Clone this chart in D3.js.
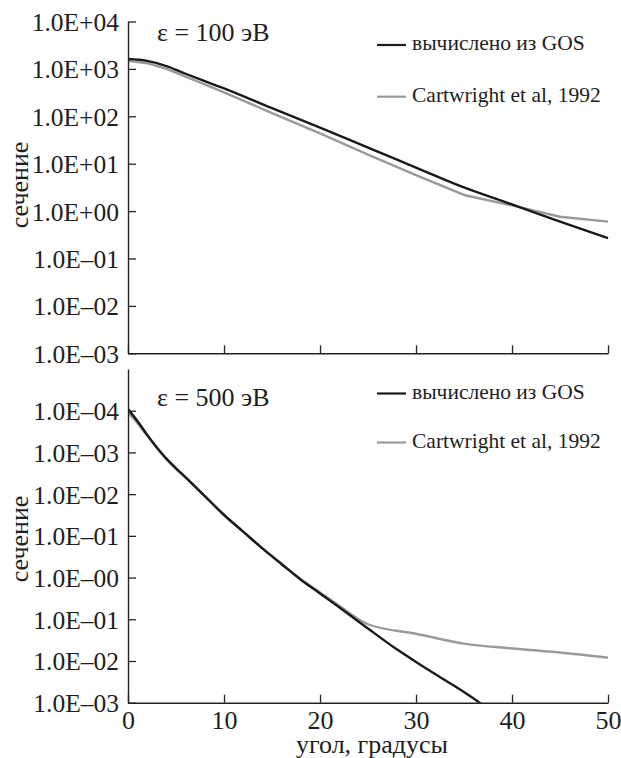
<!DOCTYPE html>
<html>
<head>
<meta charset="utf-8">
<script src="https://cdn.jsdelivr.net/npm/d3@7"></script>
</head>
<body style="margin:0; background:#fff">
<svg id="chart" width="621" height="758" style="display:block"></svg>
<script>
const SERIF = '"Liberation Serif", "Times New Roman", serif';
const INK = "#1e1e1e";

// Scattering angle, degrees
const angles100 = [0, 2, 4, 6, 8, 10, 15, 20, 25, 30, 35, 40, 45, 50];
// Cross section at 100 eV: computed from GOS and Cartwright et al (1992)
const gos100  = [1620, 1480, 1150, 790, 550, 390, 148, 57.5, 21.9, 8.3, 3.16, 1.38, 0.60, 0.27];
const cart100 = [1480, 1320, 1000, 690, 470, 320, 117, 43.6, 15.5, 5.75, 2.19, 1.32, 0.76, 0.60];

// Cross section at 500 eV
const anglesGos500 = [0, 1, 2, 3, 4, 5, 6, 8, 10, 12, 14, 16, 18, 20, 22, 25, 28, 30, 33, 35, 37];
const gos500 = [11000, 5600, 2630, 1320, 710, 417, 251, 89, 31.6, 12.6, 5.0, 2.09, 0.89, 0.417, 0.195, 0.060, 0.019, 0.0095, 0.0035, 0.0018, 0.00087];
const anglesCart500 = [0, 1, 2, 3, 4, 5, 6, 8, 10, 12, 14, 16, 18, 20, 22, 25, 30, 35, 40, 45, 50];
const cart500 = [9100, 5000, 2510, 1290, 690, 407, 251, 91, 32.4, 12.6, 5.0, 2.14, 0.91, 0.44, 0.21, 0.076, 0.045, 0.026, 0.020, 0.016, 0.012];

// Tick values and their printed labels
const yTickValues = [1e-3, 1e-2, 1e-1, 1e0, 1e1, 1e2, 1e3, 1e4];
const yLabels100 = ["1.0E–03", "1.0E–02", "1.0E–01", "1.0E+00", "1.0E+01", "1.0E+02", "1.0E+03", "1.0E+04"];
const yLabels500 = ["1.0E–03", "1.0E–02", "1.0E–01", "1.0E–00", "1.0E–01", "1.0E–02", "1.0E–03", "1.0E–04"];
const xTickValues = [0, 10, 20, 30, 40, 50];

const seriesNames = ["вычислено из GOS", "Cartwright et al, 1992"];
const seriesColors = ["#1a1a1a", "#9a9a9a"];

const svg = d3.select("#chart");
const x = d3.scaleLinear().domain([0, 50]).range([128, 608]);

const panels = [
  {
    id: "p100", title: "ε = 100 эВ",
    yDomain: [1e-3, 1e4], yRange: [353.3, 21.5], yLabels: yLabels100,
    series: [
      { xs: angles100, ys: gos100, curve: d3.curveMonotoneX },
      { xs: angles100, ys: cart100, curve: d3.curveLinear }
    ],
    titleY: 40.5, legendY: [45, 96.7], yLabelCenter: 185, xLabels: false
  },
  {
    id: "p500", title: "ε = 500 эВ",
    yDomain: [1e-3, 1e5], yRange: [702.7, 369], yLabels: yLabels500,
    series: [
      { xs: anglesGos500, ys: gos500, curve: d3.curveMonotoneX },
      { xs: anglesCart500, ys: cart500, curve: d3.curveMonotoneX }
    ],
    titleY: 405.5, legendY: [393.5, 442.5], yLabelCenter: 539, xLabels: true
  }
];

panels.forEach(p => {
  const y = d3.scaleLog().domain(p.yDomain).range(p.yRange);
  const g = svg.append("g");

  g.append("clipPath").attr("id", "clip-" + p.id)
    .append("rect")
    .attr("x", x.range()[0]).attr("y", p.yRange[1] - 2)
    .attr("width", x.range()[1] - x.range()[0] + 2)
    .attr("height", p.yRange[0] - p.yRange[1] + 2);

  // curves (Cartwright first so the GOS line lies on top)
  [1, 0].forEach(i => {
    const s = p.series[i];
    const line = d3.line().curve(s.curve);
    const pts = s.xs.map((a, k) => [x(a), y(s.ys[k])]);
    g.append("path")
      .attr("clip-path", `url(#clip-${p.id})`)
      .attr("d", line(pts))
      .attr("fill", "none")
      .attr("stroke", seriesColors[i])
      .attr("stroke-width", 2.4)
      .attr("stroke-linejoin", "round");
  });

  // y axis
  const yAxis = d3.axisLeft(y)
    .tickValues(yTickValues)
    .tickFormat((d, i) => p.yLabels[i])
    .tickSizeInner(-8).tickSizeOuter(0).tickPadding(9);
  const ya = g.append("g").attr("transform", `translate(${x.range()[0]},0)`).call(yAxis);
  ya.attr("font-family", SERIF).attr("font-size", 25.5);
  ya.selectAll("text").attr("dy", "0.35em").attr("fill", INK);

  // x axis
  const xAxis = d3.axisBottom(x)
    .tickValues(xTickValues)
    .tickFormat(p.xLabels ? d3.format("d") : () => "")
    .tickSizeInner(-8).tickSizeOuter(0).tickPadding(8);
  const xa = g.append("g").attr("transform", `translate(0,${p.yRange[0]})`).call(xAxis);
  xa.attr("font-family", SERIF).attr("font-size", 26);
  xa.selectAll("text").attr("fill", INK);

  [ya, xa].forEach(a => {
    a.select(".domain").attr("stroke", "#222").attr("stroke-width", 1.4);
    a.selectAll(".tick line").attr("stroke", "#222").attr("stroke-width", 1.3);
  });

  // panel title
  g.append("text").attr("x", 157).attr("y", p.titleY)
    .attr("font-family", SERIF).attr("font-size", 26).attr("fill", INK).text(p.title);

  // legend
  p.legendY.forEach((ly, i) => {
    g.append("line").attr("x1", 377).attr("x2", 406).attr("y1", ly).attr("y2", ly)
      .attr("stroke", seriesColors[i]).attr("stroke-width", 2.2);
    g.append("text").attr("x", 412).attr("y", ly + 5)
      .attr("font-family", SERIF).attr("font-size", 21.5).attr("fill", INK).text(seriesNames[i]);
  });

  // y axis title
  g.append("text")
    .attr("transform", `translate(28,${p.yLabelCenter}) rotate(-90)`)
    .attr("text-anchor", "middle")
    .attr("font-family", SERIF).attr("font-size", 26).attr("fill", INK).text("сечение");
});

// x axis title
svg.append("text").attr("x", 372).attr("y", 753)
  .attr("text-anchor", "middle")
  .attr("font-family", SERIF).attr("font-size", 26).attr("fill", INK).text("угол, градусы");
</script>
</body>
</html>
